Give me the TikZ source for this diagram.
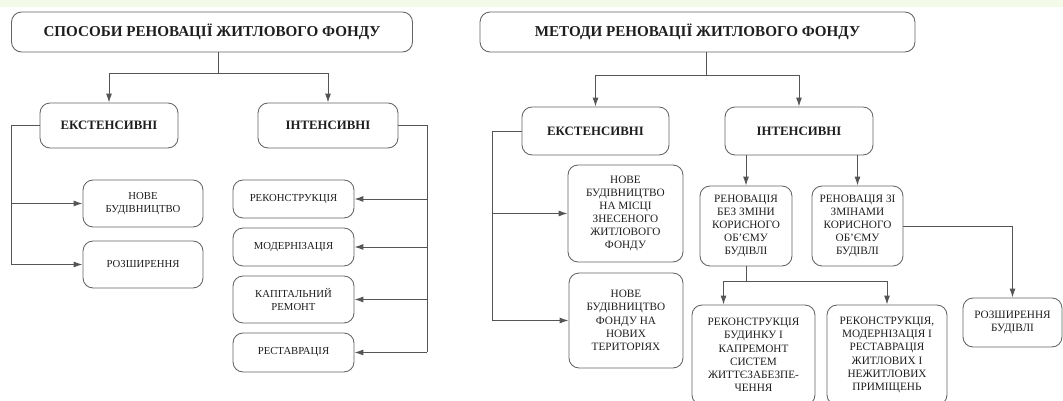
\documentclass[tikz,border=0pt]{standalone}
\usepackage{fontspec}
\setmainfont{Liberation Serif}
\usetikzlibrary{arrows.meta, positioning}

\definecolor{boxgray}{RGB}{100,100,100}
\definecolor{linegray}{RGB}{85,85,85}
\definecolor{textgray}{RGB}{30,30,30}
\definecolor{bandgreen}{RGB}{244,250,232}

\begin{document}
\begin{tikzpicture}[
    x=0.02cm, y=-0.02cm,
    box/.style={draw=boxgray, line width=0.5pt, rounded corners=0.2cm, align=center, inner sep=0pt, text=textgray},
    headbox/.style={box, font=\bfseries\fontsize{8.6}{10}\selectfont, minimum height=0.8cm},
    groupbox/.style={box, font=\bfseries\fontsize{7.3}{9}\selectfont},
    leafbox/.style={box, font=\fontsize{6.1}{7}\selectfont},
    subbox/.style={box, font=\fontsize{6.4}{7.5}\selectfont},
    link/.style={draw=linegray, line width=0.55pt},
    arr/.style={link, -{Latex[length=0.18cm, width=0.12cm]}}
  ]
  \useasboundingbox (0,0) rectangle (1063,401);
  \clip (0,0) rectangle (1063,401);
  \fill[bandgreen] (0,0) rectangle (1063,7);

  % left scheme: ways of renovation
  \node[headbox, minimum width=8.02cm] (top1) at (212,32) {СПОСОБИ РЕНОВАЦІЇ ЖИТЛОВОГО ФОНДУ};
  \node[groupbox, minimum width=2.76cm, minimum height=0.9cm] (ext1) at (109,125.5) {ЕКСТЕНСИВНІ};
  \node[groupbox, minimum width=2.8cm, minimum height=0.9cm] (int1) at (328,125.5) {ІНТЕНСИВНІ};
  \node[leafbox, minimum width=2.4cm, minimum height=0.94cm] (nb1) at (143,203.5) {НОВЕ\\БУДІВНИЦТВО};
  \node[leafbox, minimum width=2.4cm, minimum height=0.94cm] (roz1) at (143,264.5) {РОЗШИРЕННЯ};
  \node[leafbox, minimum width=2.42cm, minimum height=0.76cm] (rek1) at (293.5,199) {РЕКОНСТРУКЦІЯ};
  \node[leafbox, minimum width=2.42cm, minimum height=0.76cm] (mod1) at (293.5,247) {МОДЕРНІЗАЦІЯ};
  \node[leafbox, minimum width=2.42cm, minimum height=0.94cm] (kap1) at (293.5,299.5) {КАПІТАЛЬНИЙ\\РЕМОНТ};
  \node[leafbox, minimum width=2.42cm, minimum height=0.78cm] (res1) at (293.5,352.5) {РЕСТАВРАЦІЯ};

  \coordinate (j1) at (218,73);
  \coordinate (r1) at (11,0);
  \coordinate (r2) at (427,0);
  \draw[link] (top1.south -| j1) -- (j1);
  \draw[arr] (j1) -| (ext1.north);
  \draw[arr] (j1) -| (int1.north);
  \draw[link] (ext1.west) -| (r1 |- roz1);
  \draw[arr] (r1 |- nb1) -- (nb1.west);
  \draw[arr] (r1 |- roz1) -- (roz1.west);
  \draw[link] (int1.east) -| (r2 |- res1);
  \foreach \n in {rek1, mod1, kap1, res1}
    \draw[arr] (r2 |- \n) -- (\n.east);

  % right scheme: methods of renovation
  \node[headbox, minimum width=8.7cm] (top2) at (697.5,32) {МЕТОДИ РЕНОВАЦІЇ ЖИТЛОВОГО ФОНДУ};
  \node[groupbox, minimum width=2.94cm, minimum height=0.96cm] (ext2) at (595.5,131) {ЕКСТЕНСИВНІ};
  \node[groupbox, minimum width=2.96cm, minimum height=0.96cm] (int2) at (799,131) {ІНТЕНСИВНІ};
  \node[subbox, minimum width=2.3cm, minimum height=1.94cm] (nbm) at (625.5,213.5)
    {НОВЕ\\БУДІВНИЦТВО\\НА МІСЦІ\\ЗНЕСЕНОГО\\ЖИТЛОВОГО\\ФОНДУ};
  \node[subbox, minimum width=2.28cm, minimum height=1.9cm] (nbt) at (626,320.5)
    {НОВЕ\\БУДІВНИЦТВО\\ФОНДУ НА\\НОВИХ\\ТЕРИТОРІЯХ};
  \node[subbox, minimum width=1.84cm, minimum height=1.6cm] (rbz) at (746,226)
    {РЕНОВАЦІЯ\\БЕЗ ЗМІНИ\\КОРИСНОГО\\ОБ’ЄМУ\\БУДІВЛІ};
  \node[subbox, minimum width=1.82cm, minimum height=1.6cm] (rzz) at (857.5,226)
    {РЕНОВАЦІЯ ЗІ\\ЗМІНАМИ\\КОРИСНОГО\\ОБ’ЄМУ\\БУДІВЛІ};
  \node[subbox, minimum width=1.98cm, minimum height=0.98cm] (rozb) at (1012.5,322.5)
    {РОЗШИРЕННЯ\\БУДІВЛІ};
  \node[subbox, minimum width=2.46cm, minimum height=2.0cm] (rkb) at (753.5,355)
    {РЕКОНСТРУКЦІЯ\\БУДИНКУ І\\КАПРЕМОНТ\\СИСТЕМ\\ЖИТТЄЗАБЕЗПЕ-\\ЧЕННЯ};
  \node[subbox, minimum width=2.4cm, minimum height=2.0cm] (rmr) at (887,355)
    {РЕКОНСТРУКЦІЯ,\\МОДЕРНІЗАЦІЯ І\\РЕСТАВРАЦІЯ\\ЖИТЛОВИХ І\\НЕЖИТЛОВИХ\\ПРИМІЩЕНЬ};

  \coordinate (j2) at (706,75);
  \coordinate (r3) at (492,0);
  \coordinate (j3) at (746,281);
  \draw[link] (top2.south -| j2) -- (j2);
  \draw[arr] (j2) -| (ext2.north);
  \draw[arr] (j2) -| (int2.north);
  \draw[link] (ext2.west) -| (r3 |- nbt);
  \draw[arr] (r3 |- nbm) -- (nbm.west);
  \draw[arr] (r3 |- nbt) -- (nbt.west);
  \draw[arr] (int2.south -| rbz) -- (rbz.north);
  \draw[arr] (int2.south -| rzz) -- (rzz.north);
  \draw[arr] (rzz.east) -| (rozb.north);
  \draw[link] (rbz.south) -- (j3);
  \draw[arr] (j3) -| ([xshift=-0.6cm]rkb.north);
  \draw[arr] (j3) -| (rmr.north);
\end{tikzpicture}
\end{document}
